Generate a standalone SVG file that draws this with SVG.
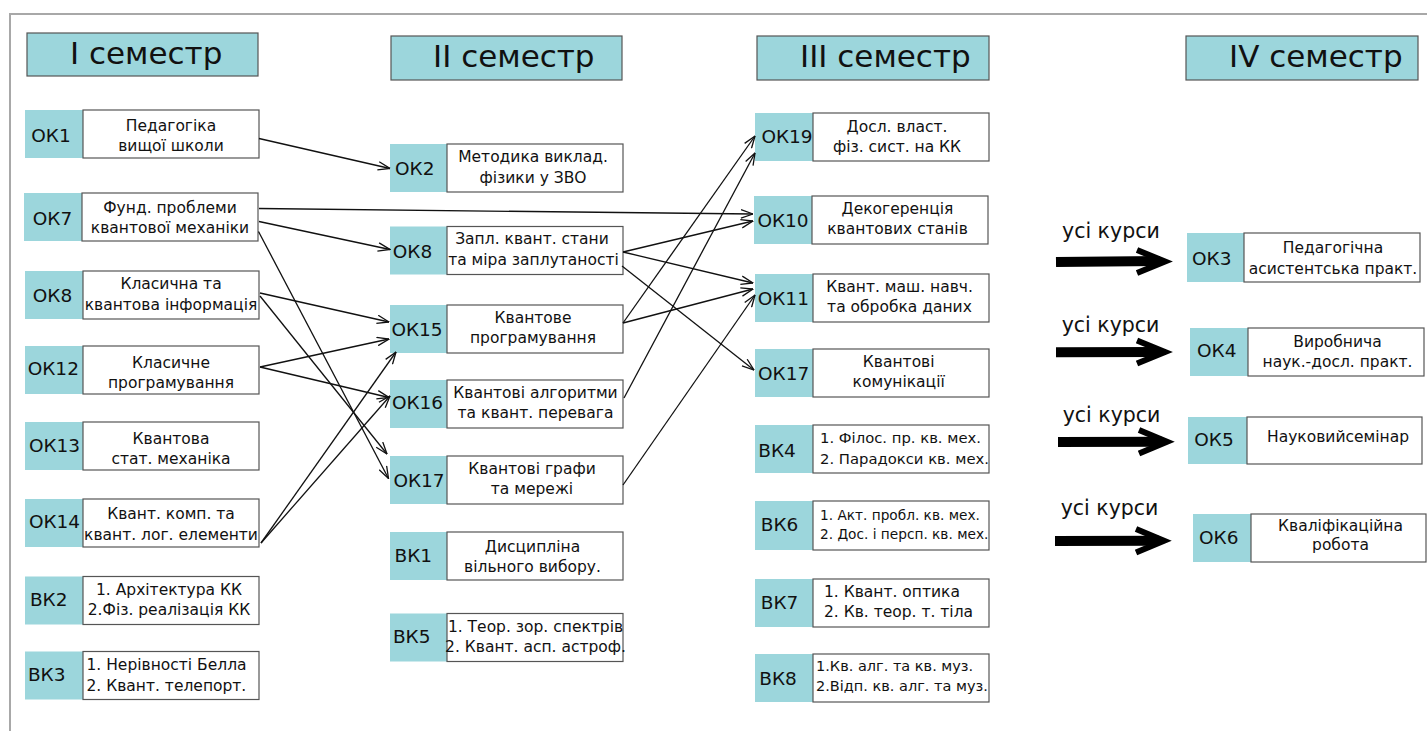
<svg xmlns="http://www.w3.org/2000/svg" width="1427" height="731" viewBox="0 0 1427 731">
<style>
text{font-family:"DejaVu Sans","Liberation Sans",sans-serif;fill:#111}
.lab{fill:#9cd6dc}
.box{fill:#fff;stroke:#555;stroke-width:1.2}
.ttl{fill:#9cd6dc;stroke:#555;stroke-width:1.2}
.h{font-size:31px}
.l{font-size:18.5px;text-anchor:middle}
.t{font-size:15.5px;text-anchor:middle}
.st{text-anchor:start}
.s4{font-size:14.8px}
.s6{font-size:13.7px}
.s8{font-size:14.5px}
.c{stroke:#111;stroke-width:1.3;fill:none;marker-end:url(#a)}
.bs{stroke:#000;stroke-width:10;fill:none}
.bh{stroke:#000;stroke-width:6;fill:none;stroke-linejoin:miter;stroke-miterlimit:10}
.k{font-size:20.5px}
</style>
<defs>
<marker id="a" viewBox="0 0 13 10" refX="12.5" refY="5" markerWidth="13" markerHeight="10" markerUnits="userSpaceOnUse" orient="auto"><path d="M0.5,0.8 L12.5,5 L0.5,9.2" fill="none" stroke="#111" stroke-width="1.3"/></marker>
</defs>
<rect width="1427" height="731" fill="#fff"/>
<path d="M10,731 V14 H1427" fill="none" stroke="#a8a8a8" stroke-width="2"/>

<g id="title1"><rect class="ttl" x="27" y="33" width="231" height="43"/><text class="h" x="70" y="63.5">I семестр</text></g>
<g id="title2"><rect class="ttl" x="391" y="36" width="231" height="44"/><text class="h" x="433" y="66.7">II семестр</text></g>
<g id="title3"><rect class="ttl" x="757" y="36" width="232" height="44"/><text class="h" x="800" y="66.7">III семестр</text></g>
<g id="title4"><rect class="ttl" x="1186" y="36" width="232" height="44"/><text class="h" x="1229" y="66.7">IV семестр</text></g>

<g id="ok1"><rect class="lab" x="25" y="110" width="58" height="48"/><rect class="box" x="83" y="110" width="176" height="48"/><text class="l" x="51" y="141.5">ОК1</text><text class="t" x="171" y="130.5">Педагогіка</text><text class="t" x="171" y="150.5">вищої школи</text></g>
<g id="ok7"><rect class="lab" x="24" y="193" width="58" height="48"/><rect class="box" x="82" y="193" width="176" height="48"/><text class="l" x="52.5" y="225">ОК7</text><text class="t" x="170" y="213.3">Фунд. проблеми</text><text class="t" x="170" y="233.3">квантової механіки</text></g>
<g id="ok8"><rect class="lab" x="25" y="271" width="58" height="48"/><rect class="box" x="83" y="271" width="176" height="48"/><text class="l" x="52.5" y="302">ОК8</text><text class="t" x="171" y="289.3">Класична та</text><text class="t" x="171" y="310">квантова інформація</text></g>
<g id="ok12"><rect class="lab" x="25" y="346" width="58" height="48"/><rect class="box" x="83" y="346" width="176" height="48"/><text class="l" x="53.3" y="375">ОК12</text><text class="t" x="171" y="368.3">Класичне</text><text class="t" x="171" y="388.3">програмування</text></g>
<g id="ok13"><rect class="lab" x="25" y="422" width="58" height="48"/><rect class="box" x="83" y="422" width="176" height="48"/><text class="l" x="54.5" y="451.5">ОК13</text><text class="t" x="171" y="444.3">Квантова</text><text class="t" x="171" y="464.3">стат. механіка</text></g>
<g id="ok14"><rect class="lab" x="25" y="499" width="58" height="48"/><rect class="box" x="83" y="499" width="176" height="48"/><text class="l" x="54.5" y="528.3">ОК14</text><text class="t" x="171" y="519.3">Квант. комп. та</text><text class="t" x="171" y="540">квант. лог. елементи</text></g>
<g id="bk2"><rect class="lab" x="25" y="576.5" width="58" height="48"/><rect class="box" x="83" y="576.5" width="176" height="48"/><text class="l" x="48.7" y="606">ВК2</text><text class="t" x="169" y="595">1. Архітектура КК</text><text class="t" x="169" y="615">2.Фіз. реалізація КК</text></g>
<g id="bk3"><rect class="lab" x="25" y="651.5" width="58" height="48"/><rect class="box" x="83" y="651.5" width="176" height="48"/><text class="l" x="46.7" y="681">ВК3</text><text class="t st" x="86.5" y="670">1. Нерівності Белла</text><text class="t st" x="86.5" y="691">2. Квант. телепорт.</text></g>

<g id="ok2"><rect class="lab" x="390" y="144" width="57" height="48"/><rect class="box" x="447" y="144" width="176" height="48"/><text class="l" x="414.7" y="175">ОК2</text><text class="t" x="533" y="161.7">Методика виклад.</text><text class="t" x="533" y="182.7">фізики у ЗВО</text></g>
<g id="ok8b"><rect class="lab" x="390" y="226.5" width="57" height="48"/><rect class="box" x="447" y="226.5" width="176" height="48"/><text class="l" x="412.5" y="258.3">ОК8</text><text class="t" x="532" y="244">Запл. квант. стани</text><text class="t" x="533.5" y="265">та міра заплутаності</text></g>
<g id="ok15"><rect class="lab" x="390" y="305" width="57" height="48"/><rect class="box" x="447" y="305" width="176" height="48"/><text class="l" x="417" y="336">ОК15</text><text class="t" x="533" y="323.3">Квантове</text><text class="t" x="533" y="342.7">програмування</text></g>
<g id="ok16"><rect class="lab" x="390" y="380" width="57" height="48"/><rect class="box" x="447" y="380" width="176" height="48"/><text class="l" x="417.5" y="409.3">ОК16</text><text class="t" x="535.5" y="398.3">Квантові алгоритми</text><text class="t" x="535.5" y="418.3">та квант. перевага</text></g>
<g id="ok17b"><rect class="lab" x="390" y="456" width="57" height="48"/><rect class="box" x="447" y="456" width="176" height="48"/><text class="l" x="419" y="487.3">ОК17</text><text class="t" x="532" y="474">Квантові графи</text><text class="t" x="532" y="494.3">та мережі</text></g>
<g id="bk1"><rect class="lab" x="390" y="532" width="57" height="48"/><rect class="box" x="447" y="532" width="176" height="48"/><text class="l" x="413.3" y="561.7">ВК1</text><text class="t" x="532.5" y="551.7">Дисципліна</text><text class="t" x="532.5" y="571.7">вільного вибору.</text></g>
<g id="bk5"><rect class="lab" x="390" y="613.5" width="57" height="48"/><rect class="box" x="447" y="613.5" width="176" height="48"/><text class="l" x="411.7" y="643.3">ВК5</text><text class="t" x="535.5" y="631.7">1. Теор. зор. спектрів</text><text class="t" x="535.5" y="651.7">2. Квант. асп. астроф.</text></g>

<g id="ok19"><rect class="lab" x="755" y="113" width="58" height="48"/><rect class="box" x="813" y="113" width="176" height="48"/><text class="l" x="787" y="143.3">ОК19</text><text class="t" x="897" y="131.7">Досл. власт.</text><text class="t" x="897" y="151.7">фіз. сист. на КК</text></g>
<g id="ok10"><rect class="lab" x="754" y="196" width="58" height="48"/><rect class="box" x="812" y="196" width="176" height="48"/><text class="l" x="783" y="226.7">ОК10</text><text class="t" x="897.5" y="214.3">Декогеренція</text><text class="t" x="897.5" y="234.3">квантових станів</text></g>
<g id="ok11"><rect class="lab" x="755" y="274" width="58" height="48"/><rect class="box" x="813" y="274" width="176" height="48"/><text class="l" x="783.3" y="305">ОК11</text><text class="t" x="899.5" y="291.7">Квант. маш. навч.</text><text class="t" x="899.5" y="311.7">та обробка даних</text></g>
<g id="ok17c"><rect class="lab" x="755" y="349" width="58" height="48"/><rect class="box" x="813" y="349" width="176" height="48"/><text class="l" x="783.7" y="380">ОК17</text><text class="t" x="898.7" y="366.7">Квантові</text><text class="t" x="898.7" y="387.3">комунікації</text></g>
<g id="bk4"><rect class="lab" x="755" y="425" width="58" height="48"/><rect class="box" x="813" y="425" width="176" height="48"/><text class="l" x="777" y="456.7">ВК4</text><text class="s4" x="820" y="442.5">1. Філос. пр. кв. мех.</text><text class="s4" x="820" y="463.5">2. Парадокси кв. мех.</text></g>
<g id="bk6"><rect class="lab" x="755" y="501" width="58" height="49"/><rect class="box" x="813" y="501" width="176" height="49"/><text class="l" x="779.5" y="530.7">ВК6</text><text class="s6" x="820" y="520">1. Акт. пробл. кв. мех.</text><text class="s6" x="820" y="539.3">2. Дос. і персп. кв. мех.</text></g>
<g id="bk7"><rect class="lab" x="755" y="579" width="58" height="48"/><rect class="box" x="813" y="579" width="176" height="48"/><text class="l" x="779.5" y="609.3">ВК7</text><text class="t st" x="824" y="596.7">1. Квант. оптика</text><text class="t st" x="824" y="616.7">2. Кв. теор. т. тіла</text></g>
<g id="bk8"><rect class="lab" x="755" y="654" width="58" height="48"/><rect class="box" x="813" y="654" width="176" height="48"/><text class="l" x="778" y="685">ВК8</text><text class="s8" x="816" y="670.7">1.Кв. алг. та кв. муз.</text><text class="s8" x="816" y="690.7">2.Відп. кв. алг. та муз.</text></g>

<g id="ok3"><rect class="lab" x="1187" y="233" width="57" height="49"/><rect class="box" x="1244" y="233" width="176" height="49"/><text class="l" x="1211.7" y="265">ОК3</text><text class="t" x="1333" y="253.3">Педагогічна</text><text class="t" x="1333" y="274">асистентська практ.</text></g>
<g id="ok4"><rect class="lab" x="1190" y="328" width="58" height="48"/><rect class="box" x="1248" y="328" width="176" height="48"/><text class="l" x="1216.7" y="357.3">ОК4</text><text class="t" x="1337.5" y="347.3">Виробнича</text><text class="t" x="1337.5" y="367.3">наук.-досл. практ.</text></g>
<g id="ok5"><rect class="lab" x="1188" y="417" width="59" height="47"/><rect class="box" x="1247" y="417" width="175" height="47"/><text class="l" x="1214" y="446">ОК5</text><text class="t" x="1338" y="441.7">Науковийсемінар</text></g>
<g id="ok6"><rect class="lab" x="1193" y="514" width="58" height="48"/><rect class="box" x="1251" y="514" width="175" height="48"/><text class="l" x="1218.8" y="544">ОК6</text><text class="t" x="1340.5" y="530.7">Кваліфікаційна</text><text class="t" x="1340.5" y="550">робота</text></g>

<g id="connectors">
<line class="c" x1="259" y1="138.5" x2="390" y2="168.5"/>
<line class="c" x1="259" y1="208.5" x2="753" y2="214"/>
<line class="c" x1="259" y1="221.5" x2="390" y2="249.5"/>
<line class="c" x1="258.5" y1="231.5" x2="388.5" y2="478.5"/>
<line class="c" x1="260" y1="293" x2="389" y2="322"/>
<line class="c" x1="260" y1="296" x2="387" y2="454"/>
<line class="c" x1="260" y1="367" x2="389" y2="339"/>
<line class="c" x1="260" y1="367" x2="389" y2="397.5"/>
<line class="c" x1="261" y1="543" x2="396" y2="352"/>
<line class="c" x1="261" y1="543" x2="390" y2="396"/>
<line class="c" x1="623" y1="252" x2="753" y2="221"/>
<line class="c" x1="623" y1="252" x2="753" y2="283"/>
<line class="c" x1="622" y1="266" x2="754" y2="370"/>
<line class="c" x1="623" y1="323" x2="755" y2="136"/>
<line class="c" x1="623" y1="323" x2="753" y2="289"/>
<line class="c" x1="624" y1="398" x2="755" y2="153"/>
<line class="c" x1="623" y1="485" x2="755" y2="295"/>
</g>

<g id="all-courses">
<text class="k" x="1062" y="238">усі курси</text>
<line class="bs" x1="1056" y1="262" x2="1160" y2="261"/>
<polyline class="bh" points="1137,250 1165,261.5 1137,273"/>
<text class="k" x="1061.7" y="332.3">усі курси</text>
<line class="bs" x1="1056" y1="352.3" x2="1160" y2="352"/>
<polyline class="bh" points="1137,340.5 1165,352 1137,363.5"/>
<text class="k" x="1062.7" y="421.7">усі курси</text>
<line class="bs" x1="1058" y1="442" x2="1162" y2="441.7"/>
<polyline class="bh" points="1139,430 1167,441.7 1139,453.4"/>
<text class="k" x="1060.7" y="515">усі курси</text>
<line class="bs" x1="1055" y1="541" x2="1159" y2="540.7"/>
<polyline class="bh" points="1136,529 1164,540.7 1136,552.4"/>
</g>
</svg>
